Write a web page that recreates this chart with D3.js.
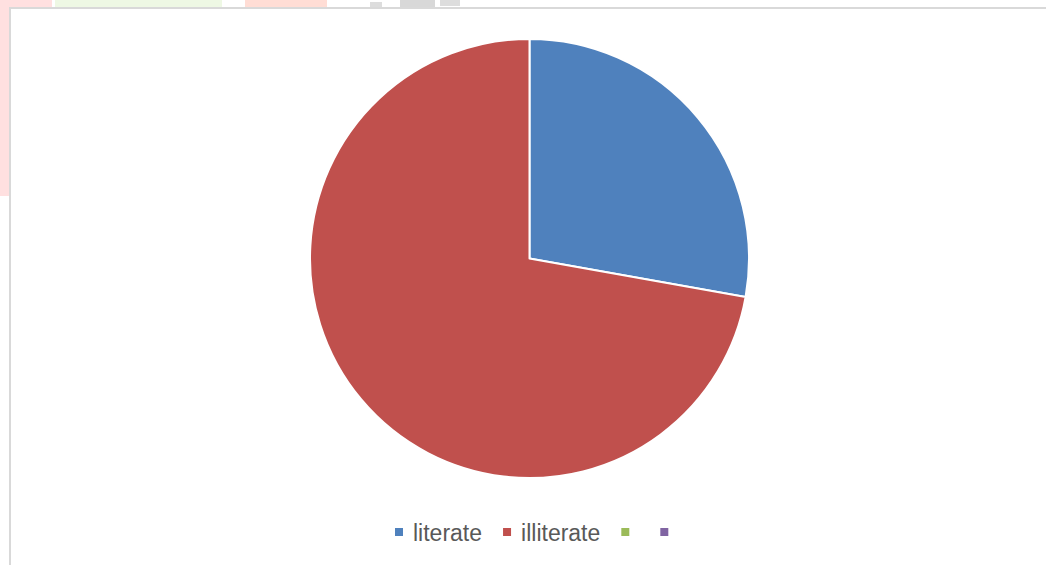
<!DOCTYPE html>
<html>
<head>
<meta charset="utf-8">
<script src="https://cdn.jsdelivr.net/npm/d3@7"></script>
<style>
  html, body { margin: 0; padding: 0; background: #fff; }
  svg { display: block; }
</style>
</head>
<body>
<svg id="chart" width="1046" height="565"></svg>
<script>
// Literacy split
const categories = ["literate", "illiterate", "", ""];
const values = [27.8, 72.2, 0, 0];
const colors = ["#4f81bd", "#c0504d", "#9bbb59", "#8064a2"];

const svg = d3.select("#chart");
const W = 1046, H = 565;

// faint backdrop fragments showing around the chart frame
const backdrop = svg.append("g");
backdrop.append("rect").attr("x", 0).attr("y", 0).attr("width", 52).attr("height", 9).attr("fill", "#ffe0e0");
backdrop.append("rect").attr("x", 0).attr("y", 0).attr("width", 9).attr("height", 196).attr("fill", "#ffe0e0");
backdrop.append("rect").attr("x", 55).attr("y", 0).attr("width", 167).attr("height", 8).attr("fill", "#eef8e4");
backdrop.append("rect").attr("x", 245).attr("y", 0).attr("width", 82).attr("height", 8).attr("fill", "#ffddd5");
backdrop.append("rect").attr("x", 400).attr("y", 0).attr("width", 35).attr("height", 7).attr("fill", "#d8d8d8");
backdrop.append("rect").attr("x", 370).attr("y", 2).attr("width", 12).attr("height", 5).attr("fill", "#dddddd");
backdrop.append("rect").attr("x", 440).attr("y", 0).attr("width", 20).attr("height", 6).attr("fill", "#dddddd");

// chart frame
svg.append("rect")
  .attr("x", 10).attr("y", 8)
  .attr("width", W + 4).attr("height", H + 4)
  .attr("fill", "#ffffff")
  .attr("stroke", "#d9d9d9").attr("stroke-width", 2);

// pie
const cx = 529.5, cy = 258.5, r = 219.5;
const pie = d3.pie().sort(null).value(d => d.value);
const arc = d3.arc().innerRadius(0).outerRadius(r);
const data = categories.map((c, i) => ({ name: c, value: values[i], color: colors[i] }));

svg.append("g")
  .attr("transform", `translate(${cx},${cy})`)
  .selectAll("path")
  .data(pie(data).filter(d => d.data.value > 0))
  .join("path")
  .attr("d", arc)
  .attr("fill", d => d.data.color)
  .attr("stroke", "#ffffff")
  .attr("stroke-width", 2)
  .attr("stroke-linejoin", "round");

// legend
const legend = svg.append("g");
let x = 395;
const sq = 8, ly = 528;
data.forEach(d => {
  legend.append("rect")
    .attr("x", x).attr("y", ly)
    .attr("width", sq).attr("height", sq)
    .attr("fill", d.color);
  x += sq + 10;
  const t = legend.append("text")
    .attr("x", x).attr("y", 541)
    .attr("font-family", "Liberation Sans, Arial, sans-serif")
    .attr("font-size", 23)
    .attr("fill", "#595959")
    .text(d.name);
  const w = d.name ? t.node().getComputedTextLength() : 0;
  x += w + 21;
});
</script>
</body>
</html>
